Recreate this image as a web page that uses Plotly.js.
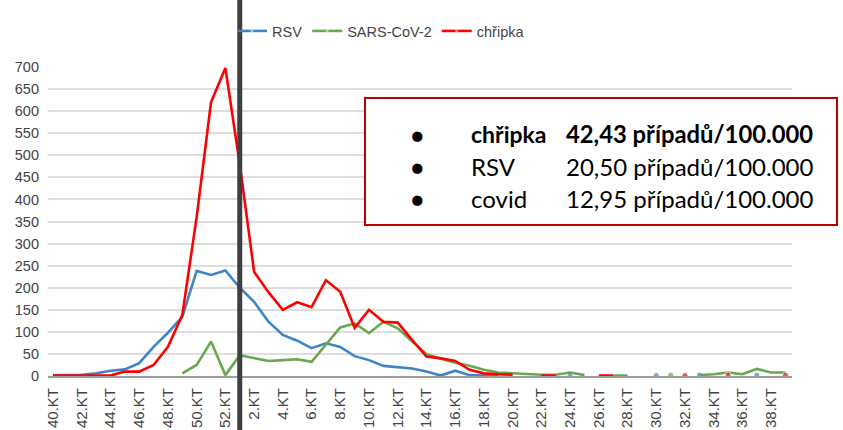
<!DOCTYPE html>
<html>
<head>
<meta charset="utf-8">
<script src="https://cdn.plot.ly/plotly-3.0.1.min.js"></script>
<style>
  html, body { margin: 0; padding: 0; background: #ffffff; }
  #chart { width: 843px; height: 430px; }
</style>
</head>
<body>
<div id="chart"></div>
<script>
// ---- data (weekly values, weeks 40–52 then 1–39) ----
const weeks = [40,41,42,43,44,45,46,47,48,49,50,51,52,
  1,2,3,4,5,6,7,8,9,10,11,12,13,14,15,16,17,18,19,20,
  21,22,23,24,25,26,27,28,29,30,31,32,33,34,35,36,37,38,39];

const rsv = [2,2,3,6,12,15,29,66,98,134,238,229,239,
  200,168,123,93,80,63,74,66,45,36,23,20,17,10,1,12,2,1,1,null,
  null,null,null,1,null,null,null,null,null,1,null,null,2,null,null,null,2,null,null];

const sarsCov2 = [null,null,null,null,null,null,null,null,null,6,25,78,2,
  47,40,34,36,38,32,70,110,119,97,123,108,78,50,39,30,23,14,8,6,
  5,3,3,8,2,null,1,1,null,null,2,null,2,4,8,4,16,8,8];

const chripka = [1,1,1,1,1,10,10,25,66,138,360,620,698,
  480,236,190,150,167,156,217,191,109,150,123,121,82,44,40,34,14,6,4,3,
  null,1,1,null,null,1,1,null,null,null,null,1,null,null,2,null,null,null,2];

const seriesNames = ['RSV', 'SARS-CoV-2', 'chřipka'];
const boxLabels = ['chřipka', 'RSV', 'covid'];
const boxValues = ['42,43 případů/100.000', '20,50 případů/100.000', '12,95 případů/100.000'];
const markerWeek = 1;

// ---- derived ----
const cats = weeks.map(w => w + '.KT');
const tickCats = cats.filter((c, i) => weeks[i] % 2 === 0);

const W = 843, H = 430;
const M = { l: 48, r: 51, t: 67, b: 54 };
const PW = W - M.l - M.r, PH = H - M.t - M.b;
const px2x = px => (px - M.l) / PW;
const px2y = py => (H - M.b - py) / PH;

function isoSizes(arr) {
  return arr.map((v, i) => {
    if (v === null) return 0;
    const prev = i > 0 ? arr[i - 1] : null;
    const next = i < arr.length - 1 ? arr[i + 1] : null;
    return (prev === null && next === null) ? 6 : 0;
  });
}

const colors = ['#3d85c6', '#6aa84f', '#ff0000'];
const traces = [rsv, sarsCov2, chripka].map((arr, k) => ({
  type: 'scatter',
  mode: 'lines+markers',
  x: cats,
  y: arr,
  name: seriesNames[k],
  line: { color: colors[k], width: 2.6 },
  marker: { color: colors[k], size: isoSizes(arr) },
  connectgaps: false,
  hoverinfo: 'x+y+name'
}));

const boxFont = 'Lato, "Noto Sans", sans-serif';
const rowY = [134, 166, 198];
const annotations = [];
boxLabels.forEach((lab, i) => {
  const bold = i === 0;
  annotations.push({
    xref: 'paper', yref: 'paper', x: px2x(417), y: px2y(rowY[i]),
    text: '●', showarrow: false, xanchor: 'center', yanchor: 'middle',
    font: { family: boxFont, size: 21, color: '#000' }
  });
  annotations.push({
    xref: 'paper', yref: 'paper', x: px2x(469), y: px2y(rowY[i]),
    text: bold ? '<b>' + lab + '</b>' : lab, showarrow: false, xanchor: 'left', yanchor: 'middle',
    font: { family: boxFont, size: bold ? 23 : 24, color: '#000' }
  });
  annotations.push({
    xref: 'paper', yref: 'paper', x: px2x(564), y: px2y(rowY[i]),
    text: bold ? '<b>' + boxValues[i] + '</b>' : boxValues[i], showarrow: false, xanchor: 'left', yanchor: 'middle',
    font: { family: boxFont, size: bold ? 23.8 : 24, color: '#000' }
  });
});

const layout = {
  width: W, height: H,
  margin: M,
  paper_bgcolor: '#ffffff',
  plot_bgcolor: '#ffffff',
  font: { family: '"Liberation Sans", Arial, sans-serif', size: 14, color: '#444' },
  showlegend: true,
  legend: {
    orientation: 'h', xanchor: 'left', yanchor: 'middle',
    x: px2x(232), y: px2y(31),
    font: { size: 14.5, color: '#444' },
    itemwidth: 30, bgcolor: 'rgba(0,0,0,0)'
  },
  xaxis: {
    type: 'category',
    categoryorder: 'array', categoryarray: cats,
    range: [-0.35, 51.45],
    tickmode: 'array', tickvals: tickCats, ticktext: tickCats,
    tickangle: -90,
    tickfont: { size: 15, color: '#444' },
    showgrid: false,
    showline: true, linecolor: '#9e9e9e', linewidth: 2,
    ticks: '', ticklabelstandoff: 4,
    zeroline: false, fixedrange: true
  },
  yaxis: {
    range: [0, 700],
    dtick: 50, tick0: 0,
    tickfont: { size: 14.5, color: '#444' },
    showgrid: true, gridcolor: '#dedede', gridwidth: 2,
    showline: false, zeroline: false,
    ticks: '', ticklabelstandoff: 8, fixedrange: true
  },
  shapes: [
    {
      type: 'rect', xref: 'paper', yref: 'paper',
      x0: px2x(365), x1: px2x(837), y0: px2y(225), y1: px2y(98),
      line: { color: '#c00000', width: 2 }, fillcolor: '#ffffff', layer: 'above'
    },
    {
      type: 'line', xref: 'x', yref: 'paper',
      x0: markerWeek + '.KT', x1: markerWeek + '.KT', y0: px2y(H + 5), y1: px2y(-5),
      line: { color: '#3f3f3f', width: 5 }, layer: 'above'
    }
  ],
  annotations: annotations
};

Plotly.newPlot('chart', traces, layout, { displayModeBar: false, staticPlot: true });
</script>
</body>
</html>
